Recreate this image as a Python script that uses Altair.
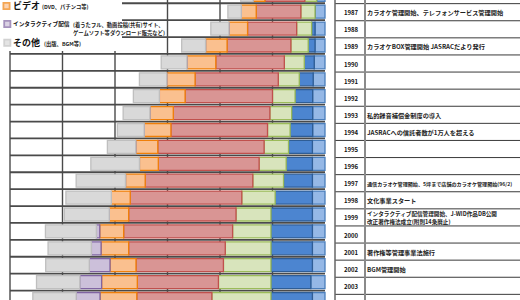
import altair as alt
import pandas as pd

# ---------------- data ----------------
years = list(range(1986, 2005))
cats = ["貸与等", "演奏等", "放送等", "オーディオディスク", "ビデオ", "インタラクティブ配信", "その他"]
fills = ["#95b8e6", "#4c85d0", "#d8e4bc", "#d99594", "#fac08f", "#ccc0da", "#d9d9d9"]
strokes = ["#4a7ebb", "#2f5d95", "#9bbb59", "#c0504d", "#f07f09", "#8064a2", "#bfbfbf"]

v_lblue = [32, 38, 38, 38, 41, 45, 47, 47, 47, 48, 48, 48, 48, 48, 48, 48, 48, 54, 48]
v_dblue = [0, 0, 13, 26, 38, 53, 67, 80, 86, 91, 100, 110, 142, 158, 158, 158, 158, 152, 158]
v_green = [45, 54, 57, 66, 76, 80, 86, 83, 86, 93, 103, 117, 127, 133, 146, 174, 181, 200, 225]
v_red = [152, 170, 187, 243, 261, 317, 333, 368, 368, 405, 384, 410, 425, 409, 415, 368, 333, 309, 286]
v_orange = [45, 57, 71, 82, 110, 108, 98, 89, 102, 84, 72, 75, 72, 74, 91, 105, 99, 136, 140]
v_purple = [0, 0, 0, 0, 0, 0, 0, 0, 0, 0, 0, 0, 0, 0, 13, 37, 79, 83, 91]
v_grey = [47, 51, 69, 91, 98, 104, 99, 102, 102, 108, 185, 188, 173, 171, 194, 165, 166, 165, 165]
series = [v_lblue, v_dblue, v_green, v_red, v_orange, v_purple, v_grey]

grid_values = [200, 400, 600, 800, 1000, 1200]

table_years = list(range(1987, 2004))
table_events = [
    "カラオケ管理開始、テレフォンサービス管理開始",
    "",
    "カラオケBOX管理開始  JASRACだより発行",
    "",
    "",
    "",
    "私的録音補償金制度の導入",
    "JASRACへの信託者数が1万人を超える",
    "",
    "",
    "通信カラオケ管理開始、5坪まで店舗のカラオケ管理開始(96/2)",
    "文化事業スタート",
    "インタラクティブ配信管理開始、J-WID作品DB公開\n改正著作権法成立(附則14条廃止)",
    "",
    "著作権等管理事業法施行",
    "BGM管理開始",
    "",
]

legend_labels = ["ビデオ", "インタラクティブ配信", "その他"]
legend_notes = [["(DVD、パチンコ等)"],
                ["(着うたフル、動画投稿(共有)サイト、", "ゲームソフト等ダウンロード販売など)"],
                ["(出版、BGM等)"]]

# ---------------- tables ----------------
rows = []
for i, y in enumerate(years):
    start = 0
    for c, vals in zip(cats, series):
        v = vals[i]
        rows.append({"year": y, "cat": c, "start": start, "end": start + v,
                     "y0": y - 0.385, "y1": y + 0.385})
        start += v
bars = pd.DataFrame(rows)

FONT = "Noto Sans CJK JP"
xs = alt.Scale(domain=[0, 1200], range=[325, 10])
ybar = alt.Scale(domain=[1986, 2004], range=[-5.2, 299], zero=False, nice=False)
ytab = alt.Scale(domain=[1986, 2004], range=[-4.9, 302.9], zero=False, nice=False)

# row separators behind bars
sep_df = pd.DataFrame({"yb": [y + 0.5 for y in range(1985, 2005)]})
row_lines = alt.Chart(sep_df).mark_rule(color="#4a4a4a", strokeWidth=1.8).encode(
    y=alt.Y("yb:Q", scale=ybar, axis=None),
    x=alt.value(10), x2=alt.value(325),
)

grid_df = pd.DataFrame({"g": grid_values})
vgrid = alt.Chart(grid_df).mark_rule(color="#4a4a4a", strokeWidth=1.4).encode(
    x=alt.X("g:Q", scale=xs, axis=None),
    y=alt.value(0), y2=alt.value(300),
)

mask = alt.Chart(pd.DataFrame({"a": [0]})).mark_rect(color="white").encode(
    x=alt.value(0), x2=alt.value(122), y=alt.value(0), y2=alt.value(51),
)

rects = alt.Chart(bars).mark_rect(strokeWidth=1.3).encode(
    x=alt.X("start:Q", scale=xs, axis=None),
    x2="end:Q",
    y=alt.Y("y0:Q", scale=ybar, axis=None),
    y2="y1:Q",
    fill=alt.Fill("cat:N", scale=alt.Scale(domain=cats, range=fills), legend=None),
    stroke=alt.Stroke("cat:N", scale=alt.Scale(domain=cats, range=strokes), legend=None),
)

# ---------------- table ----------------
tab_sep = pd.DataFrame({"ty": [y + 0.5 for y in range(1985, 2005)]})
tab_lines = alt.Chart(tab_sep).mark_rule(color="#3a3a3a", strokeWidth=1).encode(
    y=alt.Y("ty:Q", scale=ytab, axis=None),
    x=alt.value(335), x2=alt.value(520),
)
tab_border = alt.Chart(pd.DataFrame({"a": [0]})).mark_rule(color="#666666", strokeWidth=1.5).encode(
    x=alt.value(335), y=alt.value(0), y2=alt.value(300),
)
tab_col = alt.Chart(pd.DataFrame({"a": [0]})).mark_rule(color="#8a8a8a", strokeWidth=2).encode(
    x=alt.value(365), y=alt.value(0), y2=alt.value(300),
)

tdf = pd.DataFrame({"ty": table_years, "yl": [str(y) for y in table_years], "ev": table_events})
tdf["multi"] = tdf["ev"].str.contains("\n")
tdf["small"] = (tdf["ev"].str.len() > 28) & ~tdf["multi"]
tdf["norm"] = ~tdf["small"] & ~tdf["multi"]
ml_rows = []
for _, r in tdf[tdf["multi"]].iterrows():
    parts = r["ev"].split("\n")
    ml_rows.append({"ty": r["ty"], "l1": parts[0], "l2": parts[1]})
mldf = pd.DataFrame(ml_rows)

year_text = alt.Chart(tdf).mark_text(font=FONT, fontSize=6, fontWeight="bold", color="#111111",
                                     align="center", baseline="middle", dy=1).encode(
    y=alt.Y("ty:Q", scale=ytab, axis=None), x=alt.value(351), text="yl:N",
)
ev_norm = alt.Chart(tdf[tdf["norm"]]).mark_text(
    font=FONT, fontSize=6.2, fontWeight="bold", color="#222222", align="left", baseline="middle", dy=1).encode(
    y=alt.Y("ty:Q", scale=ytab, axis=None), x=alt.value(367), text="ev:N",
)
ev_small = alt.Chart(tdf[tdf["small"]]).mark_text(
    font=FONT, fontSize=5.1, fontWeight="bold", color="#222222", align="left", baseline="middle", dy=1).encode(
    y=alt.Y("ty:Q", scale=ytab, axis=None), x=alt.value(367), text="ev:N",
)
ev_m1 = alt.Chart(mldf).mark_text(
    font=FONT, fontSize=5.6, fontWeight="bold", color="#222222", align="left", baseline="middle", dy=-3.2).encode(
    y=alt.Y("ty:Q", scale=ytab, axis=None), x=alt.value(367), text="l1:N",
)
ev_m2 = alt.Chart(mldf).mark_text(
    font=FONT, fontSize=5.6, fontWeight="bold", color="#222222", align="left", baseline="middle", dy=4.4).encode(
    y=alt.Y("ty:Q", scale=ytab, axis=None), x=alt.value(367), text="l2:N",
)

# ---------------- legend ----------------
leg_layers = []
sq_pos = [(6.5, 6), (7.3, 24), (7.3, 42.7)]
lab_pos = [(13, 6, 9), (13, 24, 5.7), (13, 42.7, 9)]
note_pos = [(42, [7]), (73, [25, 33.3]), (44, [44])]
for i in range(3):
    one = pd.DataFrame({"lab": [legend_labels[i]]})
    leg_layers.append(alt.Chart(one).mark_square(size=38, filled=True, strokeWidth=1.8,
                                                 fill=fills[4 + i], stroke=strokes[4 + i]).encode(
        x=alt.value(sq_pos[i][0]), y=alt.value(sq_pos[i][1])))
    leg_layers.append(alt.Chart(one).mark_text(font=FONT, fontSize=lab_pos[i][2], fontWeight="bold",
                                               color="#111111", align="left", baseline="middle").encode(
        x=alt.value(lab_pos[i][0]), y=alt.value(lab_pos[i][1]), text="lab:N"))
    for j, line in enumerate(legend_notes[i]):
        nd = pd.DataFrame({"note": [line]})
        leg_layers.append(alt.Chart(nd).mark_text(font=FONT, fontSize=5.3, fontWeight="bold",
                                                  color="#222222", align="left", baseline="middle").encode(
            x=alt.value(note_pos[i][0]), y=alt.value(note_pos[i][1][j]), text="note:N"))

chart = alt.layer(
    row_lines, vgrid, mask, rects,
    tab_lines, tab_border, tab_col, year_text, ev_norm, ev_small, ev_m1, ev_m2,
    *leg_layers,
).resolve_scale(y="independent").properties(
    width=520, height=300, padding=0, autosize="none", background="white",
).configure_view(stroke=None)

chart.save("out.html", embed_options={"renderer": "svg", "actions": False})
